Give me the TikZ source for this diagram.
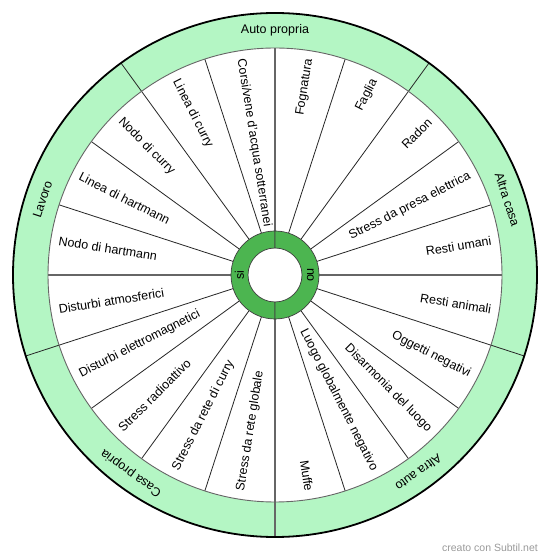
\documentclass[tikz,border=0pt]{standalone}
\usepackage{fontspec}
\setmainfont{Liberation Sans}
\definecolor{band}{RGB}{180,246,196}
\definecolor{hub}{RGB}{76,181,80}
\begin{document}
\begin{tikzpicture}[x=1pt,y=1pt,
  lbl/.style={inner sep=0pt, font=\fontsize{12.5}{15}\selectfont},
  lft/.style={lbl, anchor=west, rotate=#1},
  rgt/.style={lbl, anchor=east, rotate=#1},
  bnd/.style={lbl, anchor=center, rotate=#1},
  spoke/.style={draw=black!85, line width=0.8pt},
  axisline/.style={draw=black!60, line width=1.4pt}]
\useasboundingbox (0,0) rectangle (550,560);
\begin{scope}[shift={(275,285)}]
\coordinate (O) at (0,0);
\fill[band] (O) circle (262);
\fill[white] (O) circle (227);
% spokes
\foreach \a in {18,36,54,72,108,126,144,162,198,216,234,252,288,306,324,342}
  \draw[spoke] (\a:44) -- (\a:227);
\foreach \a in {0,90,180,270}
  \draw[axisline] (\a:44) -- (\a:227);
% band dividers
\foreach \a in {54,126,198,342}
  \draw[spoke] (\a:227) -- (\a:262);
\draw[axisline] (270:227) -- (270:262);
\draw[draw=black!60, line width=0.9pt] (O) circle (227);
\draw[black, line width=1.8pt] (O) circle (262);
% hub
\filldraw[fill=hub, draw=black!75, line width=0.7pt] (90:44) arc (90:270:44) -- (270:27) arc (270:90:27) -- cycle;
\filldraw[fill=hub, draw=black!75, line width=0.7pt] (90:44) arc (90:-90:44) -- (-90:27) arc (-90:90:27) -- cycle;
\node[bnd=90] (si) at (180:35.5) {si};
\node[bnd=-90] (no) at (0:35.5) {no};
% left labels
\node[lft=-81] (l1) at (99:219) {Corsi/vene d'acqua sotterranei};
\node[lft=-63] (l2) at (117:219) {Linea di curry};
\node[lft=-45] (l3) at (135:219) {Nodo di curry};
\node[lft=-27] (l4) at (153:219) {Linea di hartmann};
\node[lft=-9] (l5) at (171:219) {Nodo di hartmann};
\node[lft=9] (l6) at (189:219) {Disturbi atmosferici};
\node[lft=27] (l7) at (207:219) {Disturbi elettromagnetici};
\node[lft=45] (l8) at (225:219) {Stress radioattivo};
\node[lft=63] (l9) at (243:219) {Stress da rete di curry};
\node[lft=81] (l10) at (261:219) {Stress da rete globale};
% right labels
\node[rgt=81] (r1) at (81:219) {Fognatura};
\node[rgt=63] (r2) at (63:219) {Faglia};
\node[rgt=45] (r3) at (45:219) {Radon};
\node[rgt=27] (r4) at (27:219) {Stress da presa elettrica};
\node[rgt=9] (r5) at (9:219) {Resti umani};
\node[rgt=-9] (r6) at (-9:219) {Resti animali};
\node[rgt=-27] (r7) at (-27:219) {Oggetti negativi};
\node[rgt=-45] (r8) at (-45:219) {Disarmonia del luogo};
\node[rgt=-63] (r9) at (-63:219) {Luogo globalmente negativo};
\node[rgt=-81] (r10) at (-81:219) {Muffe};
% band labels
\node[bnd=0] (b1) at (90:244.5) {Auto propria};
\node[bnd=-72] (b2) at (18:244.5) {Altra casa};
\node[bnd=216] (b3) at (306:244.5) {Altra auto};
\node[bnd=144] (b4) at (234:244.5) {Casa propria};
\node[bnd=72] (b5) at (162:244.5) {Lavoro};
\end{scope}
\node[inner sep=0pt, anchor=east, text=black!40, font=\fontsize{10.5}{12}\selectfont] (wm) at (538,12) {creato con Subtil.net};
\end{tikzpicture}
\end{document}
